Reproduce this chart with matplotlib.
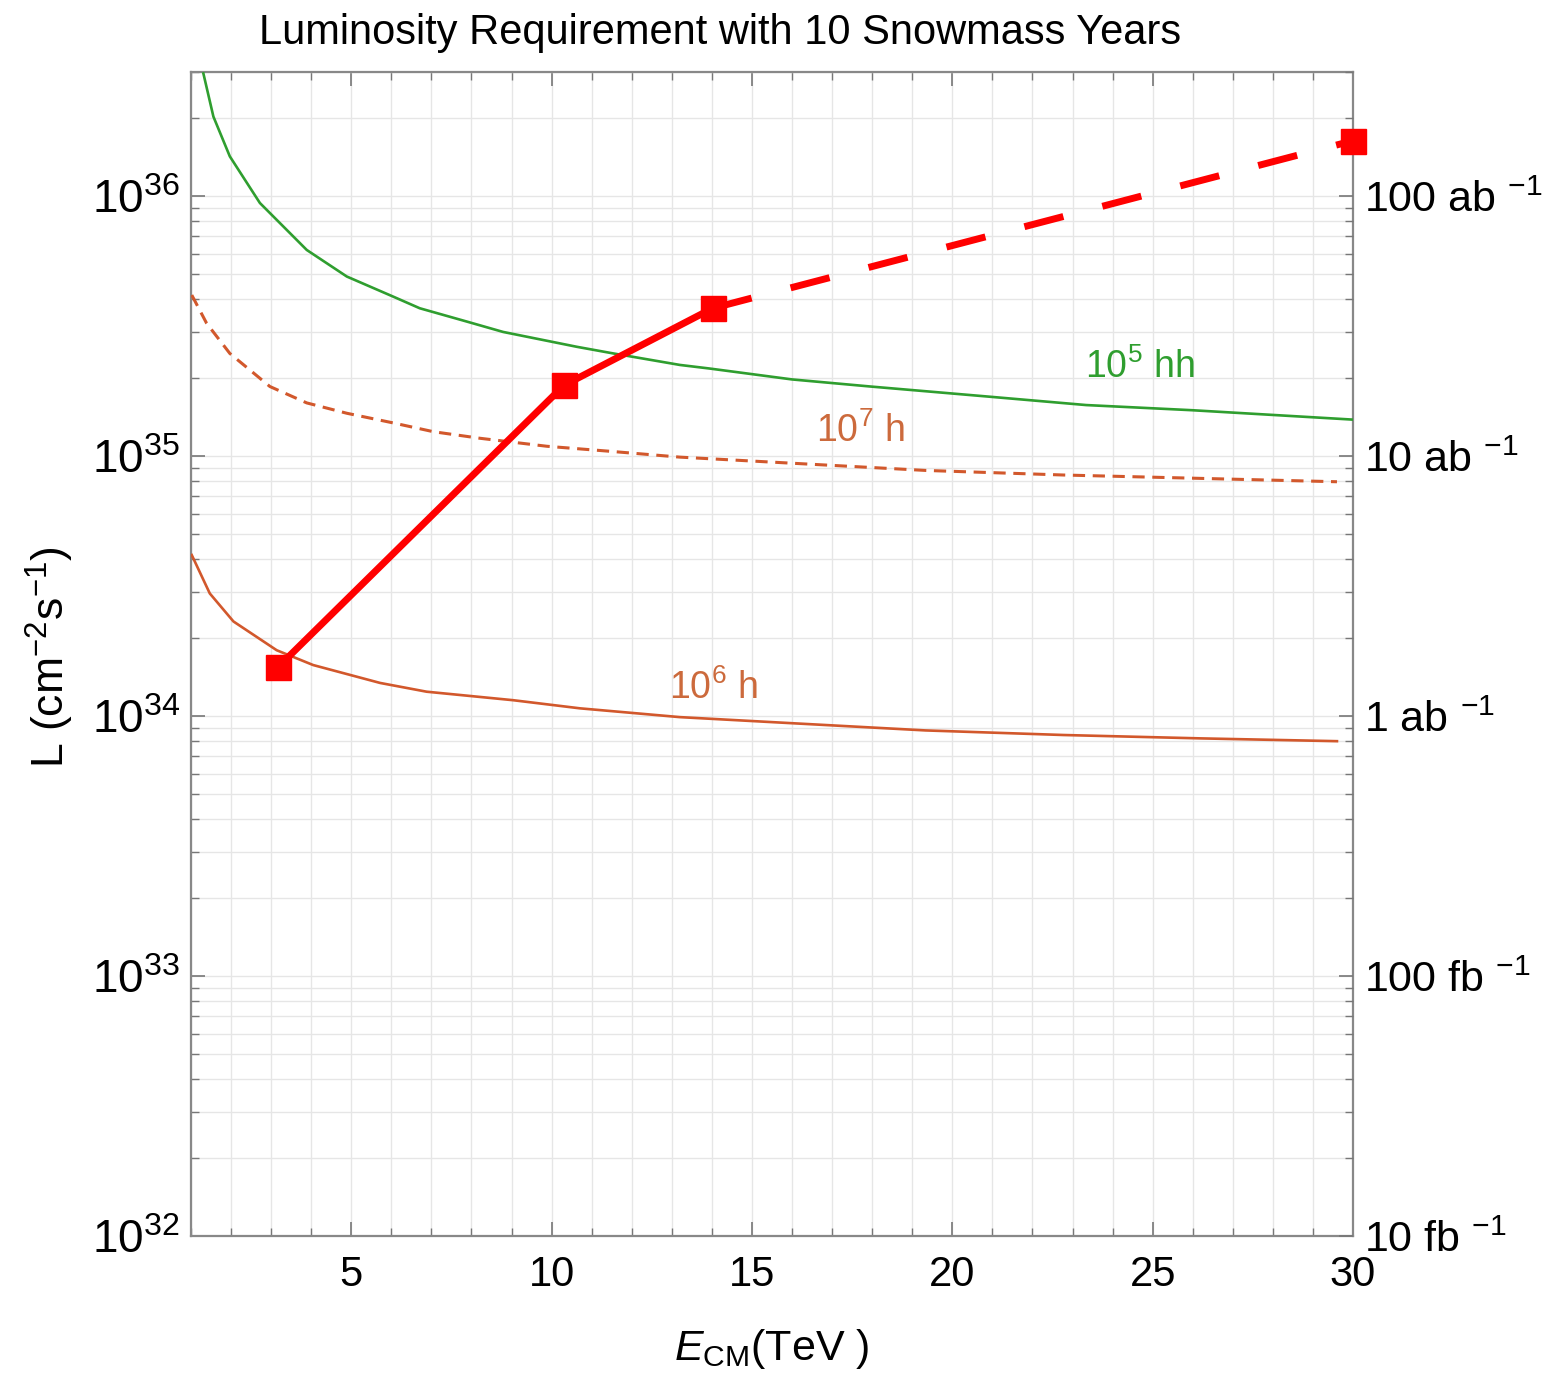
import matplotlib
matplotlib.use("Agg")
import matplotlib.pyplot as plt
from matplotlib.ticker import LogLocator, MultipleLocator, NullFormatter, FixedLocator

plt.rcParams['font.family'] = ['Liberation Sans', 'DejaVu Sans']
plt.rcParams['mathtext.fontset'] = 'custom'
plt.rcParams['mathtext.rm'] = 'Liberation Sans'
plt.rcParams['mathtext.it'] = 'Liberation Sans:italic'
plt.rcParams['mathtext.bf'] = 'Liberation Sans:bold'

# ---- data ----
green_x = [1.31, 1.56, 1.97, 2.72, 3.89, 4.89, 6.05, 6.71, 7.88, 8.79, 10.63, 11.54, 13.2,
           13.94, 16.0, 17.96, 20.94, 23.34, 25.98, 30.0]
green_y = [2.96e36, 2.02e36, 1.42e36, 9.4e35, 6.2e35, 4.9e35, 4.1e35, 3.7e35, 3.29e35, 3.0e35,
           2.63e35, 2.48e35, 2.24e35, 2.17e35, 1.97e35, 1.85e35, 1.69e35, 1.57e35, 1.50e35, 1.38e35]

h7_x = [1.02, 1.39, 1.97, 2.97, 3.89, 4.89, 6.05, 7.05, 8.21, 9.88, 11.54, 13.2, 15.89,
        19.33, 22.77, 26.21, 29.6]
h7_y = [4.16e35, 3.24e35, 2.48e35, 1.85e35, 1.60e35, 1.46e35, 1.34e35, 1.24e35, 1.17e35,
        1.09e35, 1.04e35, 9.9e34, 9.4e34, 8.8e34, 8.45e34, 8.2e34, 7.96e34]

h6_x = [1.02, 1.47, 2.06, 3.14, 4.05, 5.72, 6.88, 9.04, 10.71, 13.2, 15.89, 19.33, 22.77,
        26.21, 29.6]
h6_y = [4.16e34, 2.96e34, 2.31e34, 1.79e34, 1.57e34, 1.34e34, 1.24e34, 1.15e34, 1.07e34,
        9.9e33, 9.4e33, 8.8e33, 8.45e33, 8.2e33, 8.0e33]

mc_x = [3.17, 10.31, 14.02, 29.99]
mc_y = [1.54e34, 1.87e35, 3.70e35, 1.63e36]

left_ticks = [1e32, 1e33, 1e34, 1e35, 1e36]
right_labels = ["10 fb $^{-1}$", "100 fb $^{-1}$", "1 ab $^{-1}$", "10 ab $^{-1}$", "100 ab $^{-1}$"]
x_ticks = [5, 10, 15, 20, 25, 30]

labels = ["10$^{5}$ hh", "10$^{7}$ h", "10$^{6}$ h"]
label_pos = [(24.68, 2.2e35), (17.70, 1.25e35), (14.03, 1.28e34)]

GREEN = "#2f9e2f"
ORANGE = "#d2582c"
RED = "#ff0000"

fig = plt.figure(figsize=(15.5, 13.73), dpi=100)
ax = fig.add_axes([0.1232, 0.0998, 0.7497, 0.8478])

ax.set_yscale('log')
ax.set_xlim(1, 30)
ax.set_ylim(1e32, 3e36)

ax.plot(green_x, green_y, color=GREEN, lw=1.9, zorder=3)
ax.plot(h7_x, h7_y, color=ORANGE, lw=2.2, ls=(0, (4, 2.5)), zorder=3)
ax.plot(h6_x, h6_y, color=ORANGE, lw=1.9, zorder=3)

ax.plot(mc_x[:3], mc_y[:3], color=RED, lw=5, zorder=4, solid_capstyle='butt')
ax.plot(mc_x[2:], mc_y[2:], color=RED, lw=5, ls=(0, (5.8, 5.8)), zorder=4)
ax.plot(mc_x, mc_y, ls='none', marker='s', ms=18, color=RED, zorder=5, clip_on=False)

label_colors = [GREEN, "#cc6a3c", "#cc6a3c"]
for t, (px, py), c in zip(labels, label_pos, label_colors):
    ax.text(px, py, t, color=c, fontsize=27, ha='center', va='center', zorder=6)

# ticks / grid
ax.xaxis.set_major_locator(FixedLocator(x_ticks))
ax.xaxis.set_minor_locator(MultipleLocator(1))
ax.yaxis.set_major_locator(FixedLocator(left_ticks))
ax.yaxis.set_minor_locator(LogLocator(base=10, subs=range(2, 10), numticks=50))
ax.yaxis.set_minor_formatter(NullFormatter())
ax.grid(True, which='both', color='#e6e6e6', lw=1.0, zorder=0)
ax.set_axisbelow(True)
ax.tick_params(which='both', direction='in', top=True, right=True, colors='#777777',
               labelcolor='black')
ax.tick_params(which='major', length=10, width=1.2)
ax.tick_params(which='minor', length=6, width=1.0)
ax.tick_params(axis='x', pad=14, labelsize=30)
ax.tick_params(axis='y', pad=8, labelsize=33)
for s in ax.spines.values():
    s.set_color('#888888')
    s.set_linewidth(1.6)

ax2 = ax.twinx()
ax2.set_yscale('log')
ax2.set_ylim(ax.get_ylim())
ax2.yaxis.set_major_locator(FixedLocator(left_ticks))
ax2.set_yticklabels(right_labels)
ax2.yaxis.set_minor_locator(LogLocator(base=10, subs=range(2, 10), numticks=50))
ax2.yaxis.set_minor_formatter(NullFormatter())
ax2.tick_params(which='both', direction='in', colors='#777777', labelcolor='black', labelsize=31, pad=8)
ax2.tick_params(which='major', length=10, width=1.2)
ax2.tick_params(which='minor', length=6, width=1.0)
for s in ax2.spines.values():
    s.set_visible(False)

fig.text(0.4645, 0.976, "Luminosity Requirement with 10 Snowmass Years", fontsize=30,
         ha='center', va='center')
ax.set_xlabel(r"$E_{\mathrm{CM}}$(TeV )", fontsize=31)
ax.xaxis.set_label_coords(0.5, -0.078)
ax.set_ylabel(r"L (cm$^{-2}$s$^{-1}$)", fontsize=32)
ax.yaxis.set_label_coords(-0.121, 0.497)
ax.yaxis.label.set_va('center')

fig.savefig("out.png", dpi=100)
